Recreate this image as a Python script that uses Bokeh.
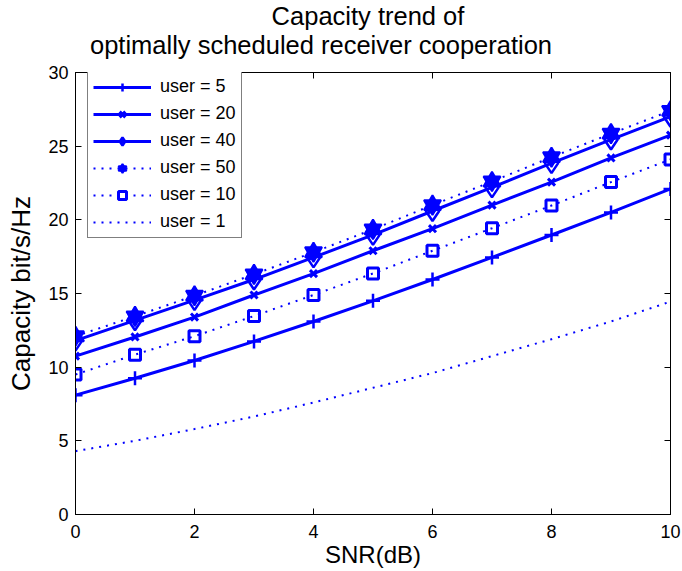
from bokeh.plotting import figure
from bokeh.layouts import column
from bokeh.models import (Range1d, LinearAxis, FixedTicker, Legend,
                          CustomJSTickFormatter)
from bokeh.core.properties import value
from bokeh.embed import file_html
from bokeh.resources import INLINE

snr = [0, 1, 2, 3, 4, 5, 6, 7, 8, 9, 10]
user5 = [8.1, 9.25, 10.45, 11.75, 13.1, 14.5, 15.95, 17.45, 18.97, 20.5, 22.1]
user20 = [10.75, 12.05, 13.4, 14.9, 16.35, 17.9, 19.4, 21.0, 22.56, 24.2, 25.75]
user40 = [11.8, 13.18, 14.55, 15.95, 17.45, 18.98, 20.6, 22.2, 23.85, 25.45, 27.0]
user50 = [12.1, 13.45, 14.85, 16.3, 17.8, 19.35, 21.0, 22.6, 24.25, 25.85, 27.4]
user10 = [9.5, 10.85, 12.1, 13.47, 14.9, 16.36, 17.9, 19.43, 20.97, 22.56, 24.1]
user1 = [4.3, 5.0, 5.8, 6.65, 7.6, 8.6, 9.6, 10.75, 11.9, 13.1, 14.45]
x_ticks = [0, 2, 4, 6, 8, 10]
y_ticks = [0, 5, 10, 15, 20, 25, 30]
title_lines = ["Capacity trend of", "optimally scheduled receiver cooperation"]

FONT = "Liberation Sans"
BLUE = "#0000FF"
W, H = 682, 571
TH = 61  # height of the title strip
BL, BR = 75, 12  # left / right borders shared by both strips

# ---- title strip (pixel coordinates, y downward) ----
tf = figure(width=W, height=TH, output_backend="svg", toolbar_location=None,
            x_range=Range1d(BL, W - BR), y_range=Range1d(TH, 0),
            x_axis_location=None, y_axis_location=None,
            min_border_left=BL, min_border_right=BR, min_border_top=0,
            min_border_bottom=0, outline_line_color=None)
tf.xgrid.visible = False
tf.ygrid.visible = False
tf.border_fill_color = "white"
tf.background_fill_color = "white"
tf.text(x=[367.5, 320.5], y=[15.8, 44.0], text=title_lines,
        text_font=value(FONT), text_font_size="25.5px", text_color="black",
        text_align="center", text_baseline="middle")

# ---- main plot ----
p = figure(width=W, height=H - TH, output_backend="svg", toolbar_location=None,
           x_range=Range1d(0, 10), y_range=Range1d(0, 30),
           min_border_left=BL, min_border_right=BR, min_border_top=72 - TH,
           min_border_bottom=57)
p.xgrid.visible = False
p.ygrid.visible = False
p.outline_line_color = "black"
p.outline_line_width = 1
p.background_fill_color = "white"
p.border_fill_color = "white"

def style_axis(ax, ticks):
    ax.ticker = FixedTicker(ticks=ticks)
    ax.major_tick_in = 6
    ax.major_tick_out = 0
    ax.minor_tick_line_color = None
    ax.axis_line_color = "black"
    ax.major_tick_line_color = "black"
    ax.major_label_text_font = FONT
    ax.major_label_text_font_size = "18px"
    ax.major_label_text_color = "black"
    ax.axis_label_text_font = FONT
    ax.axis_label_text_font_style = "normal"
    ax.axis_label_text_color = "black"

style_axis(p.xaxis[0], x_ticks)
style_axis(p.yaxis[0], y_ticks)
p.xaxis[0].major_label_standoff = 10
p.yaxis[0].major_label_standoff = 7
p.xaxis[0].axis_label = "SNR(dB)"
p.xaxis[0].axis_label_text_font_size = "24px"
p.xaxis[0].axis_label_standoff = 0
p.yaxis[0].axis_label = "Capacity bit/s/Hz"
p.yaxis[0].axis_label_text_font_size = "26px"
p.yaxis[0].axis_label_standoff = 9

blank = CustomJSTickFormatter(code="return ''")
top = LinearAxis()
style_axis(top, x_ticks)
top.formatter = blank
top.major_label_standoff = 0
p.add_layout(top, "above")
right = LinearAxis()
style_axis(right, y_ticks)
right.formatter = blank
right.major_label_standoff = 0
p.add_layout(right, "right")

DOT = "2 6"
r5l = p.line(snr, user5, line_color=BLUE, line_width=3)
r5m = p.scatter(snr, user5, marker="cross", size=14, line_color=BLUE, line_width=2.5)
r20l = p.line(snr, user20, line_color=BLUE, line_width=3)
r20m = p.scatter(snr, user20, marker="x", size=10, line_color=BLUE, line_width=3)
r40l = p.line(snr, user40, line_color=BLUE, line_width=3)
r40m = p.scatter(snr, user40, marker="diamond", size=20, line_color=BLUE,
                 line_width=2.5, fill_alpha=0)
r50l = p.line(snr, user50, line_color=BLUE, line_width=2, line_dash=DOT)
r50a = p.scatter(snr, user50, marker="triangle", size=17, line_color=BLUE,
                 line_width=2, fill_color=BLUE)
r50b = p.scatter(snr, user50, marker="inverted_triangle", size=17, line_color=BLUE,
                 line_width=2, fill_color=BLUE)
r10l = p.line(snr, user10, line_color=BLUE, line_width=2, line_dash=DOT)
r10m = p.scatter(snr, user10, marker="square", size=11, line_color=BLUE,
                 line_width=3, fill_alpha=0)
r1l = p.line(snr, user1, line_color=BLUE, line_width=2, line_dash=DOT)

legend = Legend(items=[
    ("user = 5", [r5l, r5m]),
    ("user = 20", [r20l, r20m]),
    ("user = 40", [r40l, r40m]),
    ("user = 50", [r50l, r50a, r50b]),
    ("user = 10", [r10l, r10m]),
    ("user = 1", [r1l]),
], location=(12, 276))
legend.label_text_font = FONT
legend.label_text_font_size = "18px"
legend.label_text_color = "black"
legend.glyph_width = 58
legend.glyph_height = 20
legend.label_height = 20
legend.spacing = 6
legend.padding = 5
legend.margin = 0
legend.label_standoff = 9
legend.border_line_color = "black"
legend.border_line_width = 1
legend.background_fill_color = "white"
legend.background_fill_alpha = 1
p.add_layout(legend, "center")

page = column(tf, p, spacing=0)
open("out.html", "w").write(file_html(page, INLINE))
